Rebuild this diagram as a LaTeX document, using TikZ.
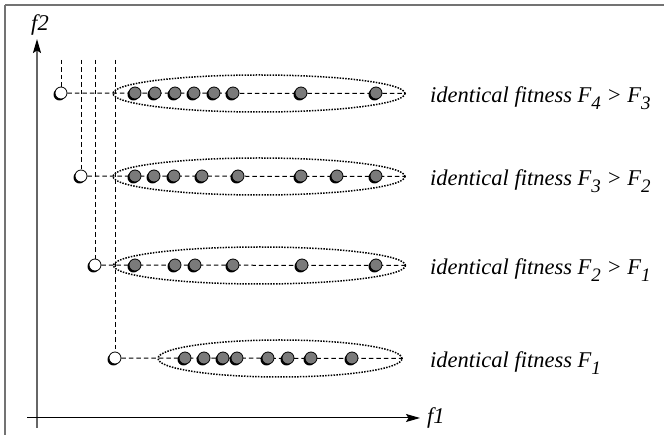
\documentclass[tikz,border=0pt]{standalone}
\usepackage{fontspec}
\setmainfont{Liberation Serif}
\usetikzlibrary{shapes.geometric,shadows,arrows.meta,backgrounds}
\begin{document}
\begin{tikzpicture}[x=1pt,y=-1pt,
  frameline/.style={draw=black!55,line width=1.6pt},
  axisarrow/.style={-{Stealth[length=14pt,width=8pt,inset=2.5pt,color=black]}},
  guide/.style={draw=black,line width=1pt,dash pattern=on 4.5pt off 3pt},
  front/.style={draw=black,ellipse,minimum width=2*#1,minimum height=37pt,inner sep=0pt,
    line width=1.5pt,dash pattern=on 1.5pt off 1.3pt},
  dotbase/.style={circle,draw=black,line width=0.8pt,minimum size=12pt,inner sep=0pt,
    drop shadow={shadow xshift=-1.5pt,shadow yshift=-1.5pt,fill=black,opacity=1}},
  member/.style={dotbase,fill=black!52},
  best/.style={dotbase,fill=white},
  lbl/.style={anchor=base west,inner sep=0pt,font=\fontsize{22.5}{26}\selectfont\itshape},
  axlbl/.style={inner sep=0pt,font=\fontsize{22.5}{26}\selectfont\itshape}]
\useasboundingbox (0,0) rectangle (665,435);
\newcommand{\sbs}[1]{\raisebox{-0.3em}{\fontsize{19}{22}\selectfont #1}}

% frame (top and left edges)
\draw[frameline] (5,5) -- (664,5);
\draw[frameline] (5,5) -- (5,435);

% axes
\coordinate (ybot) at (37,428);
\coordinate (ytop) at (37,39);
\coordinate (xleft) at (27,418);
\coordinate (xright) at (420,418);
\draw[axisarrow,draw=black!60,line width=1.4pt] (ybot) -- (ytop);
\draw[axisarrow,line width=1pt] (xleft) -- (xright);
\node[axlbl] (f2) at (40,25) {f2};
\node[axlbl,anchor=west] (f1) at (427,418) {f1};

% fronts drawn as dotted ellipses
\node[front=146pt] (e1) at (259,93.5) {};
\node[front=146pt] (e2) at (259,176.5) {};
\node[front=146pt] (e3) at (259.5,265.5) {};
\node[front=122pt] (e4) at (280,358.5) {};

% best point of each front and its projections
\coordinate (t1) at (61,60);
\coordinate (t2) at (81,60);
\coordinate (t3) at (95,60);
\coordinate (t4) at (115,60);
\node[best] (o1) at (61,93) {};
\node[best] (o2) at (81,176) {};
\node[best] (o3) at (95,265) {};
\node[best] (o4) at (115,358) {};
\begin{scope}[on background layer]
\foreach \i in {1,...,4}{
  \draw[guide] (t\i) -- (o\i);
  \draw[guide] (o\i) -- (e\i.east);
}
\end{scope}

% members of each front
\foreach \x in {135,155,175,194,214,233,301,376}{\node[member] at (\x,93) {};}
\foreach \x in {135,154,174,202,238,301,337,376}{\node[member] at (\x,176) {};}
\foreach \x in {135,175,195,233,302,376}{\node[member] at (\x,265) {};}
\foreach \x in {185,204,223,237,268,288,311,352}{\node[member] at (\x,358) {};}

% labels
\node[lbl] (l1) at (430,103) {identical fitness F\sbs{4} > F\sbs{3}};
\node[lbl] (l2) at (430,186) {identical fitness F\sbs{3} > F\sbs{2}};
\node[lbl] (l3) at (430,275) {identical fitness F\sbs{2} > F\sbs{1}};
\node[lbl] (l4) at (430,368) {identical fitness F\sbs{1}};
\end{tikzpicture}
\end{document}
